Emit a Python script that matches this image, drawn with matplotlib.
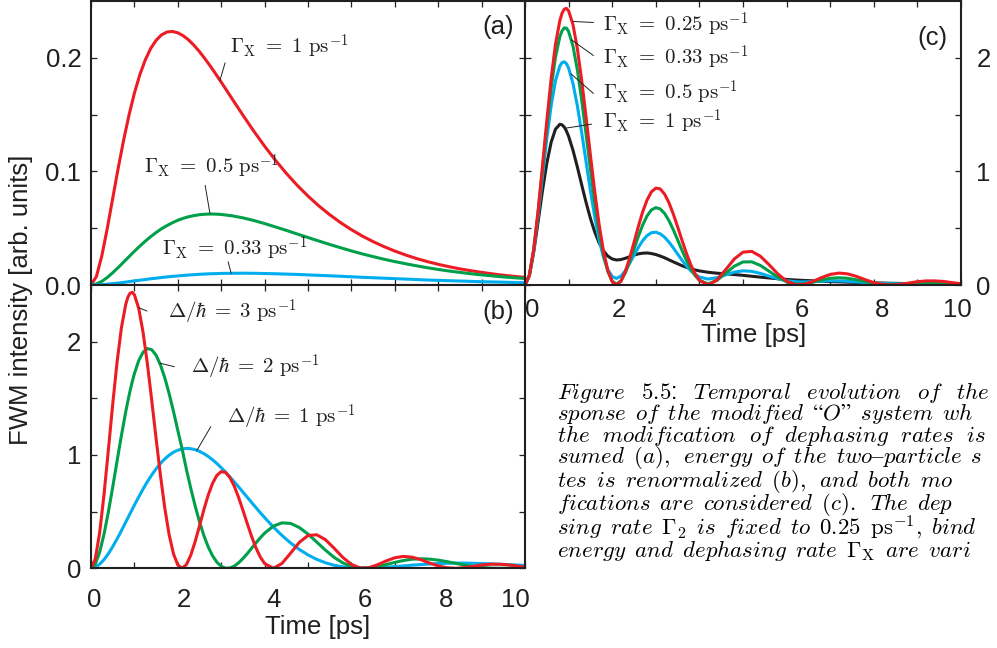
import numpy as np
import matplotlib.pyplot as plt
import matplotlib.transforms as mtransforms
from matplotlib.ticker import MultipleLocator, FixedLocator, NullFormatter

plt.rcParams['mathtext.fontset'] = 'cm'
plt.rcParams['font.family'] = ['Liberation Sans', 'DejaVu Sans']

# ---- panel (a): dephasing rate only (finer sampling over the first 3 ps)
time_a = [0.0, 0.125, 0.25, 0.375, 0.5, 0.625, 0.75, 0.875, 1.0, 1.125, 1.25, 1.375,
          1.5, 1.625, 1.75, 1.875, 2.0, 2.125, 2.25, 2.375, 2.5, 2.625, 2.75, 2.875,
          3.0, 3.25, 3.5, 3.75, 4.0, 4.25, 4.5, 4.75, 5.0, 5.25, 5.5, 5.75, 6.0, 6.25,
          6.5, 6.75, 7.0, 7.25, 7.5, 7.75, 8.0, 8.25, 8.5, 8.75, 9.0, 9.25, 9.5, 9.75,
          10.0]
a_gx_1 = [0.0, 0.0075, 0.0258, 0.0498, 0.0762, 0.1025, 0.1272, 0.1495, 0.1689, 0.1851,
          0.1981, 0.2082, 0.2154, 0.2202, 0.2227, 0.2232, 0.2220, 0.2194, 0.2157, 0.2109,
          0.2054, 0.1992, 0.1926, 0.1857, 0.1786, 0.1640, 0.1495, 0.1355, 0.1222, 0.1098,
          0.0983, 0.0878, 0.0783, 0.0696, 0.0619, 0.0549, 0.0487, 0.0431, 0.0382, 0.0338,
          0.0299, 0.0264, 0.0233, 0.0206, 0.0182, 0.0161, 0.0142, 0.0126, 0.0111, 0.0098,
          0.0086, 0.0076, 0.0067]
a_gx_05 = [0.0, 0.0009, 0.0032, 0.0066, 0.0108, 0.0153, 0.0201, 0.0249, 0.0297, 0.0342,
           0.0386, 0.0425, 0.0462, 0.0495, 0.0523, 0.0548, 0.0570, 0.0587, 0.0601, 0.0611,
           0.0619, 0.0623, 0.0625, 0.0624, 0.0621, 0.0609, 0.0591, 0.0568, 0.0541, 0.0511,
           0.0481, 0.0449, 0.0418, 0.0387, 0.0357, 0.0328, 0.0300, 0.0274, 0.0250, 0.0227,
           0.0206, 0.0187, 0.0169, 0.0152, 0.0137, 0.0123, 0.0111, 0.0099, 0.0089, 0.0080,
           0.0071, 0.0064, 0.0057]
a_gx_033 = [0.0, 0.0001, 0.0003, 0.0007, 0.0012, 0.0017, 0.0023, 0.0030, 0.0036, 0.0042,
            0.0048, 0.0055, 0.0060, 0.0066, 0.0071, 0.0076, 0.0080, 0.0084, 0.0088, 0.0091,
            0.0094, 0.0097, 0.0099, 0.0100, 0.0102, 0.0103, 0.0104, 0.0103, 0.0101, 0.0099,
            0.0096, 0.0093, 0.0089, 0.0085, 0.0081, 0.0077, 0.0072, 0.0068, 0.0064, 0.0060,
            0.0056, 0.0052, 0.0048, 0.0044, 0.0041, 0.0038, 0.0035, 0.0032, 0.0029, 0.0027,
            0.0025, 0.0022, 0.0020]

# ---- panels (b) and (c): 0.1 ps steps up to 4 ps (extra points at the main peak), then 0.2 ps
time_bc = [0.0, 0.1, 0.2, 0.3, 0.4, 0.5, 0.6, 0.7, 0.8, 0.85, 0.9, 0.95, 1.0, 1.1, 1.2,
           1.3, 1.4, 1.5, 1.6, 1.7, 1.8, 1.9, 2.0, 2.1, 2.2, 2.3, 2.4, 2.5, 2.6, 2.7, 2.8,
           2.9, 3.0, 3.1, 3.2, 3.3, 3.4, 3.5, 3.6, 3.7, 3.8, 3.9, 4.0, 4.2, 4.4, 4.6, 4.8,
           5.0, 5.2, 5.4, 5.6, 5.8, 6.0, 6.2, 6.4, 6.6, 6.8, 7.0, 7.2, 7.4, 7.6, 7.8, 8.0,
           8.2, 8.4, 8.6, 8.8, 9.0, 9.2, 9.4, 9.6, 9.8, 10.0]
b_delta_3 = [0.0, 0.085, 0.316, 0.651, 1.044, 1.447, 1.818, 2.121, 2.329, 2.393, 2.428,
             2.435, 2.414, 2.293, 2.082, 1.802, 1.480, 1.144, 0.820, 0.532, 0.297, 0.128,
             0.029, 0.000, 0.033, 0.117, 0.236, 0.374, 0.516, 0.645, 0.749, 0.820, 0.853,
             0.846, 0.801, 0.726, 0.626, 0.513, 0.395, 0.282, 0.181, 0.100, 0.042, 0.000,
             0.043, 0.134, 0.229, 0.289, 0.296, 0.253, 0.178, 0.097, 0.034, 0.003, 0.005,
             0.031, 0.065, 0.093, 0.105, 0.098, 0.076, 0.047, 0.021, 0.005, 0.000, 0.006,
             0.017, 0.029, 0.036, 0.036, 0.031, 0.021, 0.011]
b_delta_2 = [0.0, 0.038, 0.143, 0.301, 0.497, 0.716, 0.945, 1.170, 1.380, 1.476, 1.565,
             1.646, 1.718, 1.833, 1.907, 1.939, 1.929, 1.880, 1.796, 1.681, 1.542, 1.385,
             1.217, 1.053, 0.870, 0.704, 0.550, 0.410, 0.290, 0.189, 0.111, 0.054, 0.018,
             0.001, 0.003, 0.019, 0.048, 0.086, 0.129, 0.177, 0.224, 0.269, 0.310, 0.372,
             0.401, 0.396, 0.360, 0.302, 0.232, 0.161, 0.097, 0.048, 0.016, 0.001, 0.002,
             0.014, 0.033, 0.052, 0.069, 0.080, 0.084, 0.081, 0.072, 0.059, 0.044, 0.029,
             0.017, 0.008, 0.002, 0.000, 0.001, 0.004, 0.008]
b_delta_1 = [0.0, 0.010, 0.036, 0.077, 0.129, 0.191, 0.259, 0.331, 0.407, 0.445, 0.483,
             0.520, 0.558, 0.630, 0.700, 0.765, 0.824, 0.878, 0.925, 0.965, 0.998, 1.024,
             1.042, 1.053, 1.058, 1.055, 1.047, 1.032, 1.012, 0.987, 0.958, 0.925, 0.888,
             0.849, 0.807, 0.763, 0.719, 0.673, 0.627, 0.581, 0.536, 0.491, 0.448, 0.365,
             0.290, 0.223, 0.166, 0.118, 0.079, 0.049, 0.027, 0.013, 0.004, 0.000, 0.001,
             0.004, 0.009, 0.015, 0.021, 0.028, 0.033, 0.038, 0.042, 0.044, 0.046, 0.046,
             0.044, 0.042, 0.040, 0.036, 0.033, 0.029, 0.025]
c_gx_025 = [0.0, 0.085, 0.316, 0.651, 1.044, 1.447, 1.818, 2.121, 2.329, 2.393, 2.428,
            2.435, 2.414, 2.293, 2.082, 1.802, 1.480, 1.144, 0.820, 0.532, 0.297, 0.128,
            0.029, 0.000, 0.033, 0.117, 0.236, 0.374, 0.516, 0.645, 0.749, 0.820, 0.853,
            0.846, 0.801, 0.726, 0.626, 0.513, 0.395, 0.282, 0.181, 0.100, 0.042, 0.000,
            0.043, 0.134, 0.229, 0.289, 0.296, 0.253, 0.178, 0.097, 0.034, 0.003, 0.005,
            0.031, 0.065, 0.093, 0.105, 0.098, 0.076, 0.047, 0.021, 0.005, 0.000, 0.006,
            0.017, 0.029, 0.036, 0.036, 0.031, 0.021, 0.011]
c_gx_033 = [0.0, 0.084, 0.311, 0.636, 1.012, 1.392, 1.735, 2.007, 2.187, 2.238, 2.263,
            2.261, 2.232, 2.104, 1.896, 1.629, 1.329, 1.021, 0.728, 0.471, 0.265, 0.118,
            0.033, 0.008, 0.036, 0.106, 0.204, 0.316, 0.428, 0.529, 0.609, 0.661, 0.681,
            0.670, 0.631, 0.568, 0.488, 0.398, 0.306, 0.220, 0.144, 0.084, 0.041, 0.010,
            0.040, 0.102, 0.165, 0.203, 0.204, 0.172, 0.121, 0.068, 0.028, 0.009, 0.010,
            0.024, 0.044, 0.059, 0.064, 0.059, 0.046, 0.030, 0.015, 0.006, 0.004, 0.006,
            0.012, 0.017, 0.020, 0.020, 0.017, 0.012, 0.007]
c_gx_05 = [0.0, 0.083, 0.303, 0.609, 0.952, 1.288, 1.579, 1.799, 1.929, 1.958, 1.965,
           1.948, 1.910, 1.775, 1.579, 1.342, 1.086, 0.832, 0.599, 0.399, 0.243, 0.135,
           0.075, 0.058, 0.079, 0.126, 0.191, 0.262, 0.331, 0.391, 0.435, 0.460, 0.465,
           0.451, 0.421, 0.379, 0.328, 0.273, 0.219, 0.169, 0.126, 0.093, 0.070, 0.052,
           0.064, 0.089, 0.113, 0.125, 0.120, 0.102, 0.078, 0.055, 0.038, 0.029, 0.027,
           0.030, 0.034, 0.037, 0.036, 0.033, 0.027, 0.022, 0.017, 0.013, 0.012, 0.011,
           0.012, 0.012, 0.012, 0.011, 0.010, 0.008, 0.007]
c_gx_1 = [0.0, 0.084, 0.290, 0.555, 0.828, 1.071, 1.257, 1.372, 1.415, 1.410, 1.390,
          1.356, 1.309, 1.187, 1.040, 0.882, 0.728, 0.587, 0.466, 0.371, 0.300, 0.254,
          0.229, 0.220, 0.224, 0.235, 0.249, 0.263, 0.274, 0.280, 0.282, 0.277, 0.268,
          0.255, 0.240, 0.222, 0.204, 0.187, 0.170, 0.156, 0.143, 0.133, 0.124, 0.112,
          0.104, 0.098, 0.092, 0.085, 0.077, 0.069, 0.062, 0.055, 0.049, 0.044, 0.040,
          0.037, 0.033, 0.030, 0.028, 0.025, 0.022, 0.020, 0.018, 0.017, 0.015, 0.014,
          0.012, 0.011, 0.010, 0.009, 0.008, 0.007, 0.007]

x_ticklabels = ['0', '2', '4', '6', '8', '10']
# the scanned figure has its x tick labels nudged off the tick marks
b_label_pos = [0.07, 2.13, 4.21, 6.32, 8.19, 9.78]
c_label_pos = [0.16, 2.16, 4.22, 6.34, 8.20, 9.92]

RED = '#ED1C24'
GREEN = '#00A04B'
BLUE = '#00AEEF'
BLACK = '#231F20'
DARK = '#231F20'
LW = 2.2
FS = 18.5
MFS = 15

W, H = 997, 648
fig = plt.figure(figsize=(W / 100, H / 100), dpi=100)

def px_box(x0, y0, x1, y1):
    return [x0 / W, 1 - y1 / H, (x1 - x0) / W, (y1 - y0) / H]

ax_a = fig.add_axes(px_box(91, 1, 525, 285))
ax_b = fig.add_axes(px_box(91, 285, 525, 568.3))
ax_c = fig.add_axes(px_box(525, 1, 961, 285))

for ax in (ax_a, ax_b, ax_c):
    for sp in ax.spines.values():
        sp.set_color(DARK)
        sp.set_linewidth(1.5)
    ax.set_xlim(0, 10)
    ax.xaxis.set_major_locator(MultipleLocator(2))
    ax.xaxis.set_minor_locator(MultipleLocator(1))
    ax.xaxis.set_major_formatter(NullFormatter())
    ax.tick_params(which='both', direction='in', top=True, right=True,
                   length=4, width=0.9, color=DARK, labelsize=FS, labelcolor=DARK)

def x_labels(ax, positions, drop_px, height_px):
    trans = mtransforms.blended_transform_factory(ax.transData, ax.transAxes)
    for pos, lab in zip(positions, x_ticklabels):
        ax.text(pos, -drop_px / height_px, lab, transform=trans, ha='center', va='top',
                fontsize=FS, color=DARK)

# (a)
ax_a.plot(time_a, a_gx_1, color=RED, lw=LW)
ax_a.plot(time_a, a_gx_05, color=GREEN, lw=LW)
ax_a.plot(time_a, a_gx_033, color=BLUE, lw=LW)
ax_a.set_ylim(0, 0.25)
ax_a.yaxis.set_major_locator(FixedLocator([0, 0.1, 0.2]))
ax_a.yaxis.set_minor_locator(FixedLocator([0.05, 0.15]))
ax_a.set_yticklabels(['0.0', '0.1', '0.2'])
ax_a.tick_params(axis='y', pad=7)

# (b)
ax_b.plot(time_bc, b_delta_1, color=BLUE, lw=LW)
ax_b.plot(time_bc, b_delta_2, color=GREEN, lw=LW)
ax_b.plot(time_bc, b_delta_3, color=RED, lw=LW)
ax_b.set_ylim(0, 2.5)
ax_b.yaxis.set_major_locator(FixedLocator([0, 1, 2]))
ax_b.yaxis.set_minor_locator(FixedLocator([0.5, 1.5]))
ax_b.tick_params(axis='y', pad=7)
x_labels(ax_b, b_label_pos, 19.5, 283.3)

# (c)
ax_c.plot(time_bc, c_gx_1, color=BLACK, lw=LW)
ax_c.plot(time_bc, c_gx_05, color=BLUE, lw=LW)
ax_c.plot(time_bc, c_gx_033, color=GREEN, lw=LW)
ax_c.plot(time_bc, c_gx_025, color=RED, lw=LW)
ax_c.set_ylim(0, 2.5)
ax_c.yaxis.set_major_locator(FixedLocator([0, 1, 2]))
ax_c.yaxis.set_minor_locator(FixedLocator([0.5, 1.5]))
ax_c.tick_params(axis='y', labelleft=False, labelright=True, pad=11)
x_labels(ax_c, c_label_pos, 12.5, 284)

# panel letters
ax_a.text(0.938, 0.910, '(a)', transform=ax_a.transAxes, ha='center', va='center',
          fontsize=FS, color=DARK)
ax_b.text(0.938, 0.905, '(b)', transform=ax_b.transAxes, ha='center', va='center',
          fontsize=FS, color=DARK)
ax_c.text(0.935, 0.868, '(c)', transform=ax_c.transAxes, ha='center', va='center',
          fontsize=FS, color=DARK)

# curve labels with leader lines
def tag(ax, xt, yt, s, p0, p1):
    ax.annotate('', xy=p0, xytext=p1,
                arrowprops=dict(arrowstyle='-', lw=0.7, color=DARK, shrinkA=0, shrinkB=0))
    ax.text(xt, yt, s, fontsize=MFS, ha='left', va='baseline', color=DARK)

tag(ax_a, 3.20, 0.2032, r'$\Gamma_\mathrm{X}\ =\ 1\ \mathrm{ps}^{-1}$', (2.97, 0.180), (3.09, 0.1956))
tag(ax_a, 1.22, 0.0980, r'$\Gamma_\mathrm{X}\ =\ 0.5\ \mathrm{ps}^{-1}$', (2.74, 0.0632), (2.63, 0.0877))
tag(ax_a, 1.64, 0.0254, r'$\Gamma_\mathrm{X}\ =\ 0.33\ \mathrm{ps}^{-1}$', (3.23, 0.0102), (3.16, 0.0204))

tag(ax_b, 1.78, 2.205, r'$\Delta/\hbar\;=\;3\ \mathrm{ps}^{-1}$', (1.10, 2.30), (1.29, 2.27))
tag(ax_b, 2.30, 1.712, r'$\Delta/\hbar\;=\;2\ \mathrm{ps}^{-1}$', (1.59, 1.81), (1.92, 1.779))
tag(ax_b, 3.13, 1.271, r'$\Delta/\hbar\;=\;1\ \mathrm{ps}^{-1}$', (2.44, 1.04), (2.76, 1.250))

tag(ax_c, 1.80, 2.228, r'$\Gamma_\mathrm{X}\ =\ 0.25\ \mathrm{ps}^{-1}$', (1.10, 2.32), (1.57, 2.311))
tag(ax_c, 1.80, 1.935, r'$\Gamma_\mathrm{X}\ =\ 0.33\ \mathrm{ps}^{-1}$', (1.06, 2.16), (1.57, 2.02))
tag(ax_c, 1.80, 1.627, r'$\Gamma_\mathrm{X}\ =\ 0.5\ \mathrm{ps}^{-1}$', (1.05, 1.86), (1.57, 1.686))
tag(ax_c, 1.80, 1.378, r'$\Gamma_\mathrm{X}\ =\ 1\ \mathrm{ps}^{-1}$', (0.92, 1.38), (1.53, 1.416))

# axis labels
fig.text(21.5 / W, 1 - 300 / H, 'FWM intensity [arb. units]', rotation=90,
         ha='center', va='center', fontsize=FS, color=DARK)
fig.text(318 / W, 1 - 634 / H, 'Time [ps]', ha='center', va='baseline', fontsize=FS, color=DARK)
fig.text(754 / W, 1 - 342 / H, 'Time [ps]', ha='center', va='baseline', fontsize=FS, color=DARK)

# caption (cut off at the right edge, as in the page scan), Computer Modern italic via mathtext
caption = [
    r'$\mathit{Figure}\ \mathrm{5.5}$:$\ \mathit{Temporal\ evolution\ of\ the}$',
    r'$\mathit{sponse\ of\ the\ modified}\ \mathrm{“}\mathit{O}\mathrm{”}\ \mathit{system\ wh}$',
    r'$\mathit{the\ modification\ of\ dephasing\ rates\ is}$',
    r'$\mathit{sumed}\ \mathrm{(}\mathit{a}\mathrm{),}\ \mathit{energy\ of\ the\ two}\mathrm{–}\mathit{particle\ s}$',
    r'$\mathit{tes\ is\ renormalized}\ \mathrm{(}\mathit{b}\mathrm{),}\ \mathit{and\ both\ mo}$',
    r'$\mathit{fications\ are\ considered}\ \mathrm{(}\mathit{c}\mathrm{).}\ \mathit{The\ dep}$',
    r'$\mathit{sing\ rate}\ \Gamma_2\ \mathit{is\ fixed\ to}\ 0.25\ \mathrm{ps}^{-1}\mathrm{,}\ \mathit{bind}$',
    r'$\mathit{energy\ and\ dephasing\ rate}\ \Gamma_\mathrm{X}\ \mathit{are\ vari}$',
]
# justified lines: word gaps differ from line to line
word_gap = [r'\ \ \,', r'\ \,', r'\ \ ', r'\ \,', r'\ \,', r'\ \,', r'\ \,', r'\ \,']
block = '\n'.join(line.replace(r'\ ', gap) for line, gap in zip(caption, word_gap))
fig.text(557 / W, 1 - 380 / H, block, fontsize=16.5, linespacing=0.81,
         ha='left', va='top', color='black')

fig.savefig('out.png', dpi=100)
